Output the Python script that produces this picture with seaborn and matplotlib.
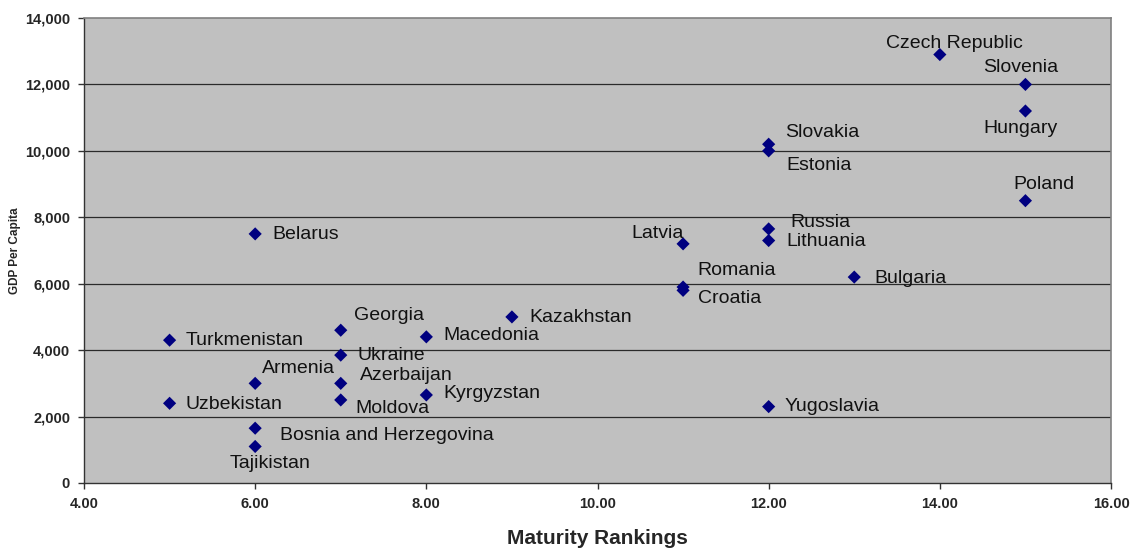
import matplotlib
matplotlib.use("Agg")
import matplotlib.pyplot as plt
import seaborn as sns
import pandas as pd
from matplotlib.ticker import FuncFormatter, MultipleLocator

countries = ["Czech Republic", "Slovenia", "Hungary", "Slovakia", "Estonia", "Poland",
             "Russia", "Lithuania", "Latvia", "Belarus", "Romania", "Croatia", "Bulgaria",
             "Kazakhstan", "Georgia", "Macedonia", "Turkmenistan", "Ukraine", "Armenia",
             "Azerbaijan", "Kyrgyzstan", "Uzbekistan", "Moldova", "Yugoslavia",
             "Bosnia and Herzegovina", "Tajikistan"]
maturity = [14, 15, 15, 12, 12, 15,
            12, 12, 11, 6, 11, 11, 13,
            9, 7, 8, 5, 7, 6,
            7, 8, 5, 7, 12,
            6, 6]
gdp = [12900, 12000, 11200, 10200, 10000, 8500,
       7650, 7300, 7200, 7500, 5900, 5800, 6200,
       5000, 4600, 4400, 4300, 3850, 3000,
       3000, 2650, 2400, 2500, 2300,
       1650, 1100]

# label offsets in pixels (left edge of text, vertical centre; +up)
label_offsets = {
    "Czech Republic": (-54, 11), "Slovenia": (-42, 17), "Hungary": (-42, -18),
    "Slovakia": (16, 12), "Estonia": (18, -15), "Poland": (-12, 16),
    "Russia": (22, 6), "Lithuania": (18, -1), "Latvia": (-52, 10),
    "Belarus": (17, -1), "Romania": (14, 17), "Croatia": (15, -8),
    "Bulgaria": (20, -1), "Kazakhstan": (17, -1), "Georgia": (13, 15),
    "Macedonia": (17, 1), "Turkmenistan": (16, 0), "Ukraine": (17, 0),
    "Armenia": (7, 15), "Azerbaijan": (19, 8), "Kyrgyzstan": (17, 1),
    "Uzbekistan": (16, -1), "Moldova": (15, -9), "Yugoslavia": (16, 0),
    "Bosnia and Herzegovina": (25, -7), "Tajikistan": (-26, -17),
}

df = pd.DataFrame({"Country": countries, "Maturity": maturity, "GDP": gdp})

sns.set_theme(style="white")
plt.rcParams["font.family"] = ["Liberation Sans", "DejaVu Sans"]

DPI = 100
fig = plt.figure(figsize=(11.30, 5.51), dpi=DPI)
ax = fig.add_axes([84 / 1130, 68 / 551, 1027 / 1130, 465 / 551])
ax.set_facecolor("#C0C0C0")

ax.set_xlim(4, 16)
ax.set_ylim(0, 14000)
ax.xaxis.set_major_locator(MultipleLocator(2))
ax.yaxis.set_major_locator(MultipleLocator(2000))
ax.xaxis.set_major_formatter(FuncFormatter(lambda v, p: f"{v:.2f}"))
ax.yaxis.set_major_formatter(FuncFormatter(lambda v, p: f"{int(v):,}"))

for yv in range(2000, 14000, 2000):
    ax.axhline(yv, color="#2a2a2a", lw=0.9, zorder=1)

sns.scatterplot(data=df, x="Maturity", y="GDP", marker="D", s=45, color="#000080",
                edgecolor="none", ax=ax, zorder=3)

k = 72 / DPI
for name, xv, yv in zip(countries, maturity, gdp):
    dx, dy = label_offsets[name]
    ax.annotate(name, (xv, yv), xytext=(dx * k, dy * k), textcoords="offset points",
                ha="left", va="center", fontsize=14, color="#111111", zorder=4)

for side in ["top", "right"]:
    ax.spines[side].set_color("#808080")
    ax.spines[side].set_linewidth(1.2)
for side in ["left", "bottom"]:
    ax.spines[side].set_color("#333333")
    ax.spines[side].set_linewidth(1.0)

ax.tick_params(axis="both", which="major", direction="out", length=4, width=1,
               color="#333333", labelsize=10.5, bottom=True, left=True)
ax.tick_params(axis="x", pad=6)
ax.tick_params(axis="y", pad=6)
for lab in ax.get_xticklabels() + ax.get_yticklabels():
    lab.set_fontweight("bold")

ax.set_xlabel("Maturity Rankings", fontsize=15, fontweight="bold", labelpad=13)
ax.set_ylabel("GDP Per Capita", fontsize=8.5, fontweight="bold", labelpad=3)

fig.savefig("out.png", dpi=DPI, facecolor="white")
